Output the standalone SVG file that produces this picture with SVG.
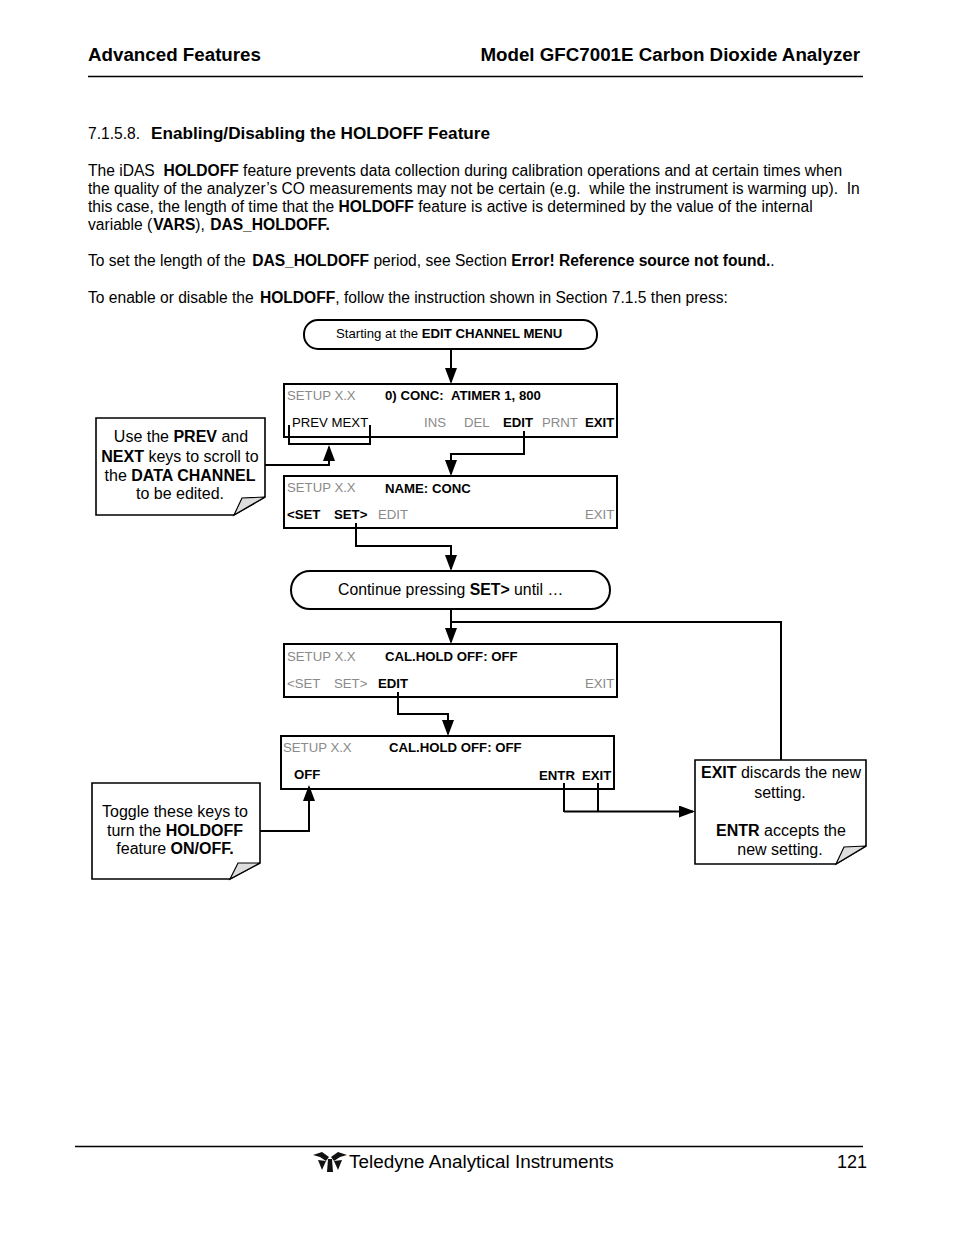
<svg xmlns="http://www.w3.org/2000/svg" width="954" height="1235" viewBox="0 0 954 1235">
<style>
text{font-family:"Liberation Sans",Arial,sans-serif;fill:#000;white-space:pre}
.h{font-size:18.75px;font-weight:bold}
.p{font-size:15.6px}
.b,tspan.b{font-weight:bold}
.k{font-size:13.2px}
.g{fill:#8a8a8a}
.n{font-size:16px;text-anchor:middle}
.box{fill:#fff;stroke:#000;stroke-width:2}
.note{fill:#fff;stroke:#000;stroke-width:1.6}
.fold{fill:#ddd;stroke:#000;stroke-width:1.2}
.c{fill:none;stroke:#000;stroke-width:2}
.a{fill:none;stroke:#000;stroke-width:2;marker-end:url(#ah)}
.r{stroke:#000;stroke-width:1.4}
</style>
<defs><marker id="ah" markerUnits="userSpaceOnUse" markerWidth="16" markerHeight="12" refX="14" refY="6" orient="auto"><path d="M0 0L16 6L0 12z" fill="#000"/></marker></defs>
<rect width="954" height="1235" fill="#fff"/>
<g id="page-text">
<text class="h" x="88" y="61">Advanced Features</text>
<text class="h" x="860" y="61" text-anchor="end">Model GFC7001E Carbon Dioxide Analyzer</text>
<line class="r" x1="88" y1="76.500" x2="863" y2="76.500"/>
<text class="p" x="88" y="139">7.1.5.8.</text>
<text class="b" x="151" y="139" font-size="17.150">Enabling/Disabling the HOLDOFF Feature</text>
<text class="p" x="88" y="176">The iDAS  <tspan class="b">HOLDOFF</tspan> feature prevents data collection during calibration operations and at certain times when</text>
<text class="p" x="88" y="194">the quality of the analyzer’s CO measurements may not be certain (e.g.  while the instrument is warming up).  In</text>
<text class="p" x="88" y="212">this case, the length of time that the <tspan class="b">HOLDOFF</tspan> feature is active is determined by the value of the internal</text>
<text class="p" x="88" y="230">variable (<tspan class="b" dx="1">VARS</tspan>), <tspan class="b" dx="1">DAS_HOLDOFF.</tspan></text>
<text class="p" x="88" y="266">To set the length of the <tspan class="b" dx="2">DAS_HOLDOFF</tspan> period, see Section <tspan class="b">Error! Reference source not found.</tspan>.</text>
<text class="p" x="88" y="303">To enable or disable the <tspan class="b" dx="2">HOLDOFF</tspan>, follow the instruction shown in Section 7.1.5 then press:</text>
</g>
<g id="connectors">
<path class="a" d="M451 349V382"/>
<path class="c" d="M289 425V444H370V425"/>
<path class="a" d="M265 465H329V447"/>
<path class="a" d="M524 431V454H451V474"/>
<path class="a" d="M356 523V546H451V569"/>
<path class="a" d="M451 609V642"/>
<path class="c" d="M451 622H781V760"/>
<path class="a" d="M398 692V714H448V734"/>
<path class="a" d="M260 831H309V787"/>
<path class="c" d="M564 783V812"/>
<path class="c" d="M598 783V812"/>
<path class="a" d="M564 811.500H693"/>
</g>
<g id="start"><rect class="box" x="304" y="320" width="293" height="29" rx="14"/>
<text class="k" x="336" y="338">Starting at the <tspan class="b">EDIT CHANNEL MENU</tspan></text></g>
<g id="screen-channel"><rect class="box" x="284" y="384" width="333" height="53" fill-opacity="0"/>
<text class="k g" x="287" y="400">SETUP X.X</text><text class="k b" x="385" y="400">0) CONC:</text><text class="k b" x="451" y="400">ATIMER 1, 800</text>
<text class="k" x="292" y="427">PREV MEXT</text><text class="k g" x="424" y="427">INS</text><text class="k g" x="464" y="427">DEL</text><text class="k b" x="503" y="427">EDIT</text><text class="k g" x="542" y="427">PRNT</text><text class="k b" x="585" y="427">EXIT</text></g>
<g id="screen-name"><rect class="box" x="284" y="476" width="333" height="52" fill-opacity="0"/>
<text class="k g" x="287" y="492">SETUP X.X</text><text class="k b" x="385" y="493">NAME: CONC</text>
<text class="k b" x="287" y="519">&lt;SET</text><text class="k b" x="334" y="519">SET&gt;</text><text class="k g" x="378" y="519">EDIT</text><text class="k g" x="585" y="519">EXIT</text></g>
<g id="continue"><rect class="box" x="291" y="571" width="319" height="38" rx="19"/>
<text x="338" y="595" font-size="15.800">Continue pressing <tspan class="b">SET&gt;</tspan> until …</text></g>
<g id="screen-cal"><rect class="box" x="284" y="644" width="333" height="53" fill-opacity="0"/>
<text class="k g" x="287" y="661">SETUP X.X</text><text class="k b" x="385" y="661">CAL.HOLD OFF: OFF</text>
<text class="k g" x="287" y="688">&lt;SET</text><text class="k g" x="334" y="688">SET&gt;</text><text class="k b" x="378" y="688">EDIT</text><text class="k g" x="585" y="688">EXIT</text></g>
<g id="screen-toggle"><rect class="box" x="281" y="736" width="333" height="53" fill-opacity="0"/>
<text class="k g" x="283" y="752">SETUP X.X</text><text class="k b" x="389" y="752">CAL.HOLD OFF: OFF</text>
<text class="k b" x="294" y="779">OFF</text><text class="k b" x="539" y="780">ENTR</text><text class="k b" x="582" y="780">EXIT</text></g>
<g id="note-prev"><path class="note" d="M96 418H265V497L234 515H96z"/><path class="fold" d="M265 497L242 498L234 515z"/>
<text class="n" x="181" y="442">Use the <tspan class="b">PREV</tspan> and</text>
<text class="n" x="180" y="462"><tspan class="b">NEXT</tspan> keys to scroll to</text>
<text class="n" x="180" y="481">the <tspan class="b">DATA CHANNEL</tspan></text>
<text class="n" x="180" y="499">to be edited.</text></g>
<g id="note-toggle"><path class="note" d="M92 783H260V863L230 879H92z"/><path class="fold" d="M260 863L238 863L230 879z"/>
<text class="n" x="175" y="817">Toggle these keys to</text>
<text class="n" x="175" y="836">turn the <tspan class="b">HOLDOFF</tspan></text>
<text class="n" x="175" y="854">feature <tspan class="b">ON/OFF.</tspan></text></g>
<g id="note-exit"><path class="note" d="M695 760H866V846L836 864H695z"/><path class="fold" d="M866 846L844 847L836 864z"/>
<text class="n" x="781" y="778"><tspan class="b">EXIT</tspan> discards the new</text>
<text class="n" x="780" y="798">setting.</text>
<text class="n" x="781" y="836"><tspan class="b">ENTR</tspan> accepts the</text>
<text class="n" x="780" y="855">new setting.</text></g>
<g id="footer">
<line class="r" x1="75" y1="1146.500" x2="863" y2="1146.500"/>
<g fill="#111"><path d="M313 1155L322 1152L329 1157L326 1161L320 1157z"/><path d="M347 1155L338 1152L331 1157L334 1161L340 1157z"/><path d="M318 1160L326 1161L322 1170z"/><path d="M342 1160L334 1161L338 1170z"/><path d="M328 1159L332 1159L333 1172L327 1172z"/></g>
<text x="349" y="1167.500" font-size="18.900">Teledyne Analytical Instruments</text>
<text x="837" y="1167.500" font-size="18">121</text>
</g>
</svg>
